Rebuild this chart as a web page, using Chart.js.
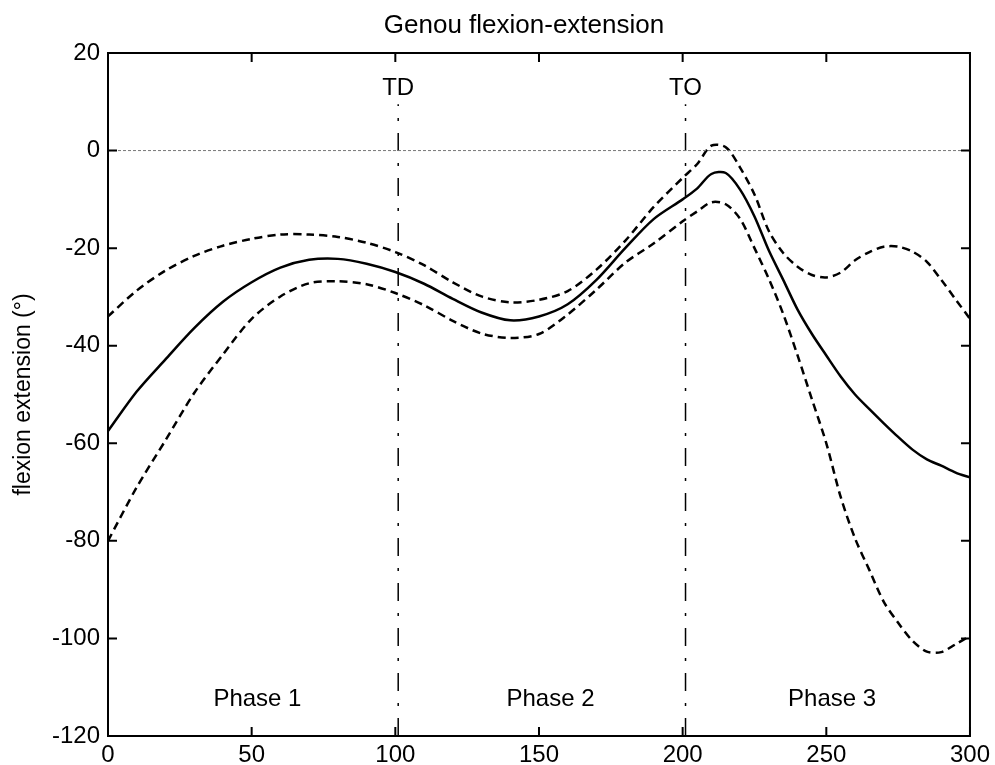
<!DOCTYPE html>
<html><head><meta charset="utf-8">
<script src="https://cdn.jsdelivr.net/npm/chart.js@4"></script>
<style>html,body{margin:0;padding:0;background:#fff}#wrap{width:995px;height:765px}</style>
</head><body><div id="wrap"><canvas id="c" width="995" height="765"></canvas></div>
<script>
// ---- data ----
const xValues     = [0,10,20,30,40,50,60,70,80,90,100,110,120,130,140,150,160,170,180,190,200,205,210,215,220,225,230,235,240,245,250,255,260,265,270,275,280,285,290,295,300];
const meanValues  = [-57.5,-49.4,-42.8,-36.4,-31.0,-27.0,-24.0,-22.4,-22.2,-23.2,-24.9,-27.3,-30.4,-33.2,-34.8,-34.0,-31.5,-26.5,-20.0,-14.0,-10.0,-7.8,-4.8,-4.6,-8.0,-13.5,-20.5,-26.5,-32.6,-37.6,-42.0,-46.3,-50.0,-53.0,-55.9,-58.7,-61.3,-63.3,-64.6,-66.0,-67.0];
const upperValues = [-34.0,-28.7,-24.6,-21.6,-19.5,-18.1,-17.2,-17.2,-17.7,-18.9,-20.8,-23.5,-27.0,-29.9,-31.1,-30.6,-28.8,-24.4,-18.5,-11.5,-5.6,-2.8,1.0,0.7,-3.5,-9.0,-16.5,-21.0,-23.8,-25.5,-26.0,-25.0,-22.5,-20.8,-19.7,-19.7,-20.7,-22.8,-26.5,-30.5,-34.5];
const lowerValues = [-80.0,-69.0,-59.4,-49.7,-41.8,-34.5,-29.9,-27.2,-26.8,-27.4,-29.2,-31.7,-34.9,-37.5,-38.4,-37.6,-33.6,-28.5,-23.0,-19.0,-14.5,-12.5,-10.6,-11.0,-14.0,-20.0,-26.3,-33.5,-42.0,-51.0,-60.0,-71.0,-79.5,-86.0,-92.5,-96.8,-100.5,-102.7,-102.8,-101.2,-99.5];
const xTicks = [0,50,100,150,200,250,300];
const yTicks = [20,0,-20,-40,-60,-80,-100,-120];
const eventX = [101,201];
const eventLabels = ['TD','TO'];
const eventLabelY = 12.7;
const eventLineTop = 9.5;
const phaseX = [52,154,252];
const phaseLabels = ['Phase 1','Phase 2','Phase 3'];
const phaseY = -112.5;
const titleText = 'Genou flexion-extension';
const yTitle = 'flexion extension (\u00b0)';

const FONT = '"Liberation Sans", Arial, Helvetica, sans-serif';
const pts = arr => xValues.map((x,i)=>({x:x,y:arr[i]}));

const decor = {
  id:'decor',
  afterDraw(chart){
    const {ctx, chartArea:a, scales:{x,y}} = chart;
    ctx.save();
    ctx.strokeStyle='#000'; ctx.lineWidth=2; ctx.setLineDash([]);
    ctx.strokeRect(a.left,a.top,a.right-a.left,a.bottom-a.top);
    const tl=9;
    xTicks.forEach(v=>{const px=x.getPixelForValue(v);
      ctx.beginPath();ctx.moveTo(px,a.bottom);ctx.lineTo(px,a.bottom-tl);
      ctx.moveTo(px,a.top);ctx.lineTo(px,a.top+tl);ctx.stroke();});
    yTicks.forEach(v=>{const py=y.getPixelForValue(v);
      ctx.beginPath();ctx.moveTo(a.left,py);ctx.lineTo(a.left+tl,py);
      ctx.moveTo(a.right,py);ctx.lineTo(a.right-tl,py);ctx.stroke();});
    ctx.fillStyle='#000'; ctx.textAlign='center'; ctx.textBaseline='middle';
    ctx.font='24px '+FONT;
    eventX.forEach((v,i)=>ctx.fillText(eventLabels[i], x.getPixelForValue(v), y.getPixelForValue(eventLabelY)));
    phaseX.forEach((v,i)=>ctx.fillText(phaseLabels[i], x.getPixelForValue(v), y.getPixelForValue(phaseY)));
    ctx.font='26px '+FONT;
    ctx.fillText(titleText,(a.left+a.right)/2-15,26);
    ctx.restore();
  }
};

new Chart(document.getElementById('c'),{
  type:'line',
  data:{datasets:[
    {label:'zero',data:[{x:0,y:0},{x:300,y:0}],borderColor:'#777',borderWidth:1,borderDash:[3,2],pointRadius:0},
    {label:'TD',data:[{x:eventX[0],y:-120},{x:eventX[0],y:eventLineTop}],borderColor:'#000',borderWidth:1.5,borderDash:[18,12,3,12],pointRadius:0},
    {label:'TO',data:[{x:eventX[1],y:-120},{x:eventX[1],y:eventLineTop}],borderColor:'#000',borderWidth:1.5,borderDash:[18,12,3,12],pointRadius:0},
    {label:'upper',data:pts(upperValues),borderColor:'#000',borderWidth:2.5,borderDash:[8,5],pointRadius:0,tension:0.3},
    {label:'lower',data:pts(lowerValues),borderColor:'#000',borderWidth:2.5,borderDash:[8,5],pointRadius:0,tension:0.3},
    {label:'mean',data:pts(meanValues),borderColor:'#000',borderWidth:2.5,pointRadius:0,tension:0.3}
  ]},
  options:{
    responsive:false, animation:false, devicePixelRatio:1,
    layout:{padding:{top:53,right:23,left:0,bottom:0}},
    plugins:{legend:{display:false},title:{display:false},tooltip:{enabled:false}},
    scales:{
      x:{type:'linear',min:0,max:300,
        afterBuildTicks:s=>{s.ticks=xTicks.map(v=>({value:v}));},
        afterFit:s=>{s.height=29;},
        grid:{display:false,drawTicks:false},
        border:{display:true,color:'#000',width:2},
        ticks:{color:'#000',font:{family:FONT,size:24},padding:5,maxRotation:0,autoSkip:false}},
      y:{type:'linear',min:-120,max:20,
        afterBuildTicks:s=>{s.ticks=yTicks.map(v=>({value:v}));},
        afterFit:s=>{s.width=108;},
        grid:{display:false,drawTicks:false},
        border:{display:true,color:'#000',width:2},
        title:{display:true,text:yTitle,color:'#000',font:{family:FONT,size:23},padding:{top:10,bottom:0}},
        ticks:{color:'#000',font:{family:FONT,size:24},padding:8,autoSkip:false}}
    }
  },
  plugins:[decor]
});
</script></body></html>
